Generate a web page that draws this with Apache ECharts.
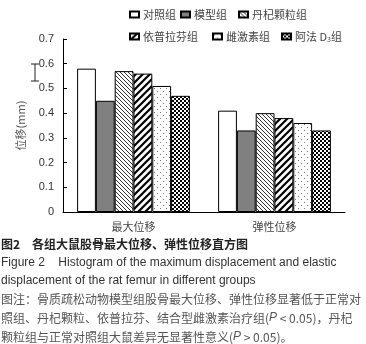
<!DOCTYPE html>
<html>
<head>
<meta charset="utf-8">
<script src="https://cdn.jsdelivr.net/npm/echarts@6/dist/echarts.min.js"></script>
<style>
  html, body { margin: 0; padding: 0; background: #fff; }
  #chart { width: 366px; height: 344px; }
</style>
</head>
<body>
<div id="chart"></div>
<script>
// 各组大鼠股骨最大位移、弹性位移
const categories = ["最大位移", "弹性位移"];
const groups = ["对照组", "模型组", "丹杞颗粒组", "依普拉芬组", "雌激素组", "阿法 D3组"];
const control = [0.58, 0.41];
const model = [0.45, 0.33];
const danqi = [0.57, 0.40];
const ipri = [0.56, 0.38];
const estrogen = [0.51, 0.36];
const alfa = [0.47, 0.33];
const yTicks = [0, 0.1, 0.2, 0.3, 0.4, 0.5, 0.6, 0.7];

function makePattern(w, h, draw) {
  const c = document.createElement("canvas");
  c.width = w; c.height = h;
  const ctx = c.getContext("2d");
  ctx.fillStyle = "#fff";
  ctx.fillRect(0, 0, w, h);
  draw(ctx);
  return { image: c, repeat: "repeat" };
}

// 细密反斜线
const patDense = makePattern(4, 4, function (ctx) {
  ctx.strokeStyle = "#333"; ctx.lineWidth = 1;
  ctx.beginPath();
  ctx.moveTo(-1, -1); ctx.lineTo(5, 5);
  ctx.moveTo(-1, 3); ctx.lineTo(1, 5);
  ctx.moveTo(3, -1); ctx.lineTo(5, 1);
  ctx.stroke();
});
// 粗斜线
const patWide = makePattern(7, 7, function (ctx) {
  ctx.strokeStyle = "#000"; ctx.lineWidth = 2.2;
  ctx.beginPath();
  ctx.moveTo(-1, 8); ctx.lineTo(8, -1);
  ctx.moveTo(-4, 4); ctx.lineTo(4, -4);
  ctx.moveTo(3, 11); ctx.lineTo(11, 3);
  ctx.stroke();
});
// 点
const patDots = makePattern(6, 6, function (ctx) {
  ctx.fillStyle = "#777";
  ctx.fillRect(1, 1, 1, 1);
  ctx.fillRect(4, 4, 1, 1);
});
// 棋盘格
const patCheck = makePattern(4, 4, function (ctx) {
  ctx.fillStyle = "#000";
  ctx.fillRect(0, 0, 2, 2);
  ctx.fillRect(2, 2, 2, 2);
});

const fills = ["#fff", "#808080", patDense, patWide, patDots, patCheck];
const values = [control, model, danqi, ipri, estrogen, alfa];

const legendPos = [
  { left: 124, top: 4 }, { left: 175, top: 4 }, { left: 233, top: 4 },
  { left: 124, top: 26 }, { left: 207, top: 26 }, { left: 276, top: 26 }
];

const chart = echarts.init(document.getElementById("chart"));
chart.setOption({
  animation: false,
  textStyle: { fontFamily: "Arial, 'Noto Sans CJK SC'" },
  grid: { left: 63, right: 21, top: 39, bottom: 132 },
  legend: groups.map(function (g, i) {
    return {
      data: [g],
      left: legendPos[i].left,
      top: legendPos[i].top,
      itemWidth: 9,
      itemHeight: 6,
      itemGap: 0,
      icon: "rect",
      selectedMode: false,
      textStyle: {
        fontSize: 11, color: "#444", padding: [0, 0, 0, -1],
        fontFamily: "'Noto Sans CJK SC', Arial",
        rich: { sub: { fontSize: 7, color: "#444", padding: [6, 0, 0, 0] } }
      },
      formatter: function (n) { return n === "阿法 D3组" ? "阿法 D{sub|3}组" : n; }
    };
  }),
  xAxis: {
    type: "category",
    data: categories,
    axisLine: { lineStyle: { color: "#000", width: 1 } },
    axisTick: { inside: true, length: 5, lineStyle: { color: "#000" } },
    axisLabel: { color: "#444", fontSize: 11, margin: 9, fontFamily: "'Noto Sans CJK SC'" }
  },
  yAxis: {
    type: "value",
    min: 0, max: 0.7, interval: 0.1,
    name: "位移(mm)",
    nameLocation: "middle",
    nameGap: 37,
    nameTextStyle: { color: "#555", fontSize: 11, fontFamily: "'Noto Sans CJK SC'" },
    axisLine: { show: true, lineStyle: { color: "#000", width: 1 } },
    axisTick: { show: true, inside: true, length: 4, lineStyle: { color: "#000" } },
    axisLabel: {
      color: "#333", fontSize: 11, margin: 9,
      formatter: function (v) {
        const t = yTicks.find(function (x) { return Math.abs(x - v) < 1e-6; });
        return t === 0 ? "0" : (t !== undefined ? t.toFixed(1) : "");
      }
    },
    splitLine: { show: false }
  },
  series: groups.map(function (g, i) {
    return {
      name: g,
      type: "bar",
      data: values[i],
      barGap: 0,
      barCategoryGap: "20%",
      itemStyle: { color: fills[i], borderColor: "#000", borderWidth: 1 }
    };
  }),
  graphic: [
    { type: "line", shape: { x1: 35, y1: 64, x2: 35, y2: 81 }, style: { stroke: "#222", lineWidth: 1 } },
    { type: "line", shape: { x1: 31, y1: 64, x2: 39, y2: 64 }, style: { stroke: "#222", lineWidth: 1 } },
    { type: "line", shape: { x1: 31, y1: 81, x2: 39, y2: 81 }, style: { stroke: "#222", lineWidth: 1 } },
    {
      type: "text", left: 1, top: 238,
      style: { text: "图2　各组大鼠股骨最大位移、弹性位移直方图", font: "bold 12px 'Noto Sans CJK SC'", fill: "#222" }
    },
    {
      type: "text", left: 1, top: 257,
      style: { text: "Figure 2    Histogram of the maximum displacement and elastic", font: "12px Arial", fill: "#333" }
    },
    {
      type: "text", left: 1, top: 275,
      style: { text: "displacement of the rat femur in different groups", font: "12px Arial", fill: "#333" }
    },
    {
      type: "text", left: 1, top: 293,
      style: { text: "图注：骨质疏松动物模型组股骨最大位移、弹性位移显著低于正常对", font: "12px 'Noto Sans CJK SC'", fill: "#555" }
    },
    {
      type: "text", left: 1, top: 312,
      style: {
        text: "照组、丹杞颗粒、依普拉芬、结合型雌激素治疗组({i|P} < 0.05)，丹杞",
        font: "12px 'Noto Sans CJK SC'", fill: "#555",
        rich: { i: { fontStyle: "italic", fontFamily: "Arial", fontSize: 12, fill: "#555" } }
      }
    },
    {
      type: "text", left: 1, top: 331,
      style: {
        text: "颗粒组与正常对照组大鼠差异无显著性意义({i|P} > 0.05)。",
        font: "12px 'Noto Sans CJK SC'", fill: "#555",
        rich: { i: { fontStyle: "italic", fontFamily: "Arial", fontSize: 12, fill: "#555" } }
      }
    }
  ]
});
</script>
</body>
</html>
